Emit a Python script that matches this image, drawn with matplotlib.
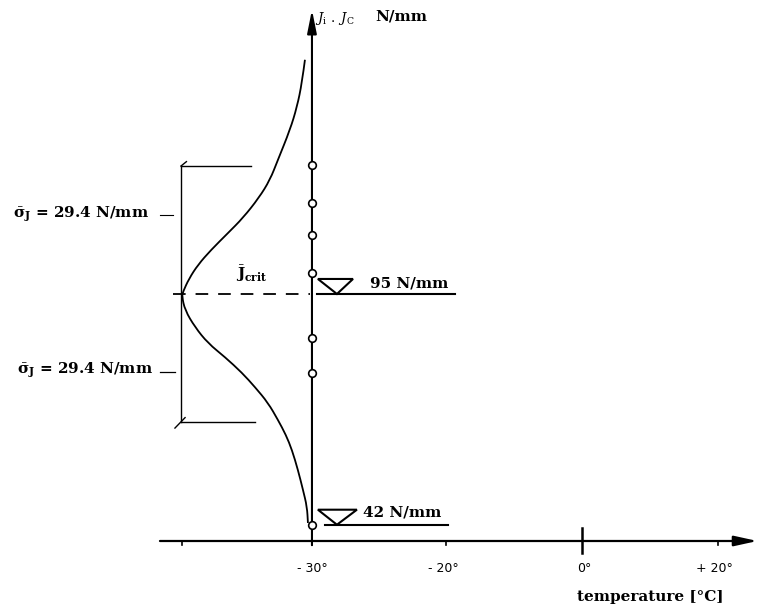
import matplotlib
matplotlib.use('Agg')
import matplotlib.pyplot as plt
from matplotlib.path import Path
from matplotlib.patches import PathPatch

plt.rcParams['mathtext.fontset'] = 'dejavuserif'

# J values in N/mm
mean_J = 95.0
sigma_J = 29.4
min_J = 42.0
test_J = [124.6, 115.9, 108.6, 99.8, 84.9, 76.9, 42.0]

# scatter curve of J_crit: J level and relative frequency (peak = 1)
curve_J = [148.8, 143.5, 138.0, 132.7, 125.8, 121.2, 117.1, 112.5, 109.0,
           105.1, 101.7, 98.5, 95.5, 94.5, 91.3, 87.4, 83.7, 80.5, 76.9,
           73.6, 70.0, 66.1, 62.6, 59.2, 54.6, 50.0, 46.1, 42.4]
curve_f = [0.054, 0.077, 0.115, 0.169, 0.262, 0.323, 0.408, 0.530, 0.646,
           0.777, 0.877, 0.946, 0.992, 1.0, 0.977, 0.900, 0.800, 0.669, 0.538,
           0.438, 0.338, 0.262, 0.200, 0.154, 0.108, 0.069, 0.038, 0.031]

# schematic temperature axis (equally spaced marks)
tick_labels = ['- 30°', '- 20°', '0°', '+ 20°']

fig = plt.figure(figsize=(7.6, 6.12), dpi=100)
ax = fig.add_axes([0, 0, 1, 1])
ax.set_xlim(-2.311, 3.319)
ax.set_ylim(21.95, 162.53)
ax.axis('off')

k = dict(color='black')
ax_y = 38.26      # level of the temperature axis
curve_w = 0.963   # drawn width of the curve peak

# temperature axis
ax.annotate('', xy=(3.30, ax_y), xytext=(-1.126, ax_y),
            arrowprops=dict(arrowstyle='-|>,head_length=1.0,head_width=0.22',
                            lw=1.6, color='black', mutation_scale=14,
                            shrinkA=0, shrinkB=0))
for t in (-0.963, 0, 0.993, 3.007):
    ax.plot([t, t], [ax_y, ax_y - 0.9], lw=1.2, **k)
ax.plot([2.0, 2.0], [ax_y + 3.0, ax_y - 2.8], lw=1.8, **k)
for t, lab in zip([0, 0.97, 2.015, 2.985], tick_labels):
    ax.text(t, 32.0, lab, ha='center', va='center', fontsize=9,
            family='DejaVu Sans')
ax.text(1.963, 25.3, 'temperature [°C]', ha='left', va='center', fontsize=11,
        family='DejaVu Serif', weight='bold')

# J axis
ax.annotate('', xy=(0, 160.3), xytext=(0, 37.3),
            arrowprops=dict(arrowstyle='-|>,head_length=1.0,head_width=0.2',
                            lw=1.5, color='black', mutation_scale=14,
                            shrinkA=0, shrinkB=0))
ax.text(0.02, 158.3, r'$J_{\mathrm{i}}\ .\ J_{\mathrm{C}}$', ha='left', va='center',
        fontsize=9.5)
ax.text(0.47, 158.8, 'N/mm', ha='left', va='center', fontsize=11,
        family='DejaVu Serif', weight='bold')

# test results
ax.plot([0] * len(test_J), test_J, 'o', ms=5.5, mfc='white', mec='black',
        mew=1.2, zorder=5)

# distribution curve, drawn as a smooth path through the read points
pts = [(-curve_w * f, j) for f, j in zip(curve_f, curve_J)]
verts = [pts[0]]
codes = [Path.MOVETO]
for i in range(1, len(pts) - 1):
    mid = ((pts[i][0] + pts[i + 1][0]) / 2, (pts[i][1] + pts[i + 1][1]) / 2)
    verts += [pts[i], mid]
    codes += [Path.CURVE3, Path.CURVE3]
verts.append(pts[-1])
codes.append(Path.LINETO)
ax.add_patch(PathPatch(Path(verts, codes), fill=False, lw=1.3, ec='black'))
ax.text(-0.444, 99.6, r'$\bar{\mathbf{J}}_{\mathbf{crit}}$', ha='center',
        va='center', fontsize=11)

# mean level
ax.plot([-1.03, -0.015], [mean_J, mean_J], lw=1.3, ls=(0, (7, 5.5)), **k)
ax.plot([0.037, 1.059], [mean_J, mean_J], lw=1.5, **k)
ax.fill([0.044, 0.304, 0.185, 0.044],
        [mean_J + 3.45, mean_J + 3.45, mean_J, mean_J + 3.45],
        fc='white', ec='black', lw=1.5, zorder=4)
ax.text(0.43, mean_J + 2.5, '95 N/mm', ha='left', va='center', fontsize=11,
        family='DejaVu Serif', weight='bold')

# lower limit
ax.plot([0.096, 1.007], [min_J, min_J], lw=1.5, **k)
ax.fill([0.044, 0.333, 0.185, 0.044],
        [min_J + 3.45, min_J + 3.45, min_J, min_J + 3.45],
        fc='white', ec='black', lw=1.5, zorder=4)
ax.text(0.378, min_J + 2.7, '42 N/mm', ha='left', va='center', fontsize=11,
        family='DejaVu Serif', weight='bold')

# scatter band +/- sigma
bx = -0.970
up, lo = mean_J + sigma_J, mean_J - sigma_J
ax.plot([bx, bx], [up, lo], lw=1.0, **k)
ax.plot([bx, -0.452], [up, up], lw=1.0, **k)
ax.plot([bx, -0.422], [lo, lo], lw=1.0, **k)
ax.plot([bx, bx + 0.04], [up, up + 1.0], lw=1.0, **k)
ax.plot([bx - 0.045, bx + 0.03], [lo - 1.4, lo + 1.0], lw=1.0, **k)
sig_txt = r'$\bar{\mathbf{\sigma}}_{\mathbf{J}}$ = 29.4 N/mm'
ax.text(-2.215, 113.4, sig_txt, ha='left', va='center', fontsize=11,
        family='DejaVu Serif', weight='bold')
ax.plot([-1.126, -1.03], [113.2, 113.2], lw=0.8, **k)
ax.text(-2.185, 77.5, sig_txt, ha='left', va='center', fontsize=11,
        family='DejaVu Serif', weight='bold')
ax.plot([-1.126, -1.015], [77.1, 77.1], lw=0.9, **k)

fig.savefig('out.png', dpi=100)
